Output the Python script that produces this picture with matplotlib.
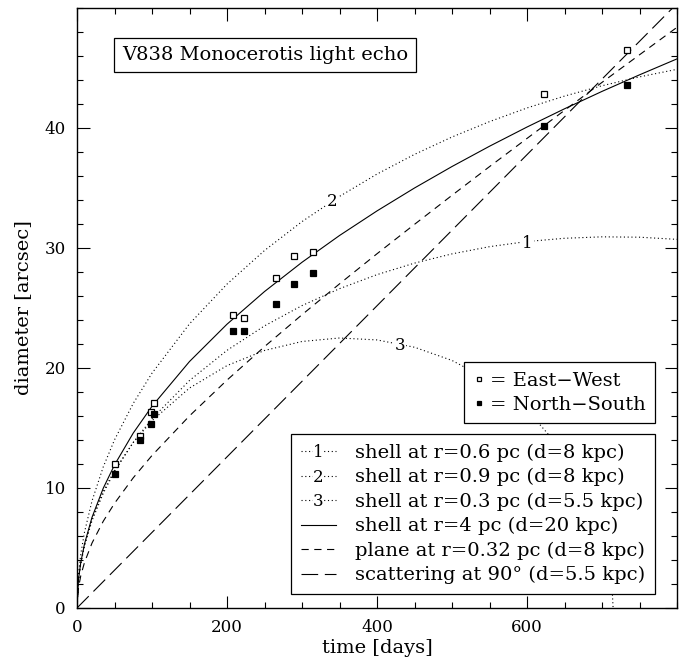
import numpy as np
import matplotlib.pyplot as plt
from matplotlib.legend_handler import HandlerLine2D
from matplotlib.text import Text

plt.rcParams['font.family'] = ['DejaVu Serif']
plt.rcParams['font.size'] = 12

# measured echo diameters [arcsec]
obs_days = [51, 84, 98, 103, 208, 222, 265, 289, 315, 623, 733]
east_west = [12.0, 14.3, 16.3, 17.1, 24.4, 24.2, 27.5, 29.3, 29.7, 42.8, 46.5]
north_south = [11.2, 14.0, 15.3, 16.2, 23.1, 23.1, 25.3, 27.0, 27.9, 40.2, 43.6]

# model curves
model_days = [0, 2, 5, 10, 20, 35, 50, 75, 100, 150, 200, 250, 300, 350,
              400, 450, 500, 550, 600, 650, 700, 750, 800]
shell_06pc = [0, 2.31, 3.65, 5.16, 7.27, 9.56, 11.37, 13.80, 15.78, 18.96,
              21.47, 23.51, 25.20, 26.61, 27.78, 28.74, 29.51, 30.11, 30.54,
              30.81, 30.93, 30.90, 30.72]
shell_09pc = [0, 2.83, 4.48, 6.32, 8.92, 11.76, 14.01, 17.05, 19.57, 23.68,
              26.99, 29.79, 32.20, 34.30, 36.16, 37.80, 39.25, 40.53, 41.67,
              42.66, 43.52, 44.26, 44.89]
shell_4pc = [0, 2.39, 3.78, 5.34, 7.55, 9.98, 11.92, 14.58, 16.81, 20.54,
             23.65, 26.37, 28.81, 31.04, 33.09, 35.00, 36.79, 38.48, 40.08,
             41.60, 43.05, 44.43, 45.76]
plane_032pc = [0, 1.69, 2.68, 3.80, 5.41, 7.23, 8.72, 10.85, 12.71, 16.01,
               18.99, 21.78, 24.44, 27.01, 29.52, 31.97, 34.39, 36.78, 39.13,
               41.47, 43.80, 46.10, 48.39]

shell3_days = [0, 2, 5, 10, 20, 35, 50, 75, 100, 150, 200, 250, 300, 350,
               400, 450, 500, 550, 600, 650, 675, 690, 700, 705, 710, 713, 714.8]
shell_03pc = [0, 2.38, 3.75, 5.29, 7.42, 9.71, 11.48, 13.79, 15.61, 18.33,
              20.20, 21.46, 22.21, 22.50, 22.34, 21.73, 20.63, 18.96, 16.52,
              12.92, 10.32, 8.24, 6.41, 5.23, 3.67, 2.26, 0]

scatter_days = [0, 800]
scatter_90deg = [0, 50.37]

model_labels = [
    "shell at r=0.6 pc (d=8 kpc)",
    "shell at r=0.9 pc (d=8 kpc)",
    "shell at r=0.3 pc (d=5.5 kpc)",
    "shell at r=4 pc (d=20 kpc)",
    "plane at r=0.32 pc (d=8 kpc)",
    "scattering at 90\u00b0 (d=5.5 kpc)",
]

TEXT_SIZE = 14
NUM_SIZE = 12
LW = 0.8
DOT = (0, (1.0, 2.4))
SHORT_DASH = (0, (6.5, 5.0))
LONG_DASH = (0, (15.0, 6.0))


class NumberedHandler(HandlerLine2D):
    """legend line with a number drawn in the middle"""

    def __init__(self, number, **kw):
        super().__init__(**kw)
        self.number = number

    def create_artists(self, legend, orig_handle, xdescent, ydescent,
                       width, height, fontsize, trans):
        artists = super().create_artists(legend, orig_handle, xdescent,
                                         ydescent, width, height, fontsize,
                                         trans)
        num = Text(width / 2 - xdescent, height / 2 - ydescent - 1,
                   self.number, ha='center', va='center',
                   fontsize=NUM_SIZE, transform=trans)
        num.set_bbox(dict(fc='white', ec='none', pad=0.3))
        return list(artists) + [num]


fig = plt.figure(figsize=(6.84, 6.6), dpi=100)
ax = fig.add_axes([77 / 684, 52 / 660, 600 / 684, 600 / 660])

l1, = ax.plot(model_days, shell_06pc, color='k', lw=LW, ls=DOT)
l2, = ax.plot(model_days, shell_09pc, color='k', lw=LW, ls=DOT)
l3, = ax.plot(shell3_days, shell_03pc, color='k', lw=LW, ls=DOT)
l4, = ax.plot(model_days, shell_4pc, color='k', lw=LW, ls='-')
l5, = ax.plot(model_days, plane_032pc, color='k', lw=LW, ls=SHORT_DASH)
l6, = ax.plot(scatter_days, scatter_90deg, color='k', lw=LW, ls=LONG_DASH)

# curve numbers on the plot
for num, (tx, ty) in zip(["1", "2", "3"], [(601, 30.4), (340, 33.9), (431, 21.9)]):
    ax.text(tx, ty, num, ha='center', va='center', fontsize=NUM_SIZE,
            bbox=dict(fc='white', ec='none', pad=0.5))

ew, = ax.plot(obs_days, east_west, ls='none', marker='s', ms=5,
              mfc='white', mec='k', mew=0.9)
ns, = ax.plot(obs_days, north_south, ls='none', marker='s', ms=5,
              mfc='k', mec='k', mew=0.9)

ax.set_xlim(0, 800)
ax.set_ylim(0, 50)
ax.set_xticks([0, 200, 400, 600])
ax.set_xticks(np.arange(0, 801, 50), minor=True)
ax.set_yticks([0, 10, 20, 30, 40])
ax.set_yticks(np.arange(0, 51, 2), minor=True)
ax.tick_params(which='both', direction='in', top=True, right=True, width=0.8)
ax.tick_params(which='major', length=9)
ax.tick_params(which='minor', length=4.5)
ax.tick_params(axis='x', pad=8)
ax.tick_params(axis='y', pad=8)
for sp in ax.spines.values():
    sp.set_linewidth(1.0)

ax.set_xlabel("time [days]", fontsize=TEXT_SIZE, labelpad=2)
ax.set_ylabel("diameter [arcsec]", fontsize=TEXT_SIZE, labelpad=9)

ax.text(0.075, 0.9217, "V838 Monocerotis light echo", transform=ax.transAxes,
        ha='left', va='center', fontsize=TEXT_SIZE,
        bbox=dict(boxstyle='square,pad=0.4', fc='white', ec='k', lw=0.9))

leg_models = ax.legend(
    [l1, l2, l3, l4, l5, l6], model_labels,
    handler_map={l1: NumberedHandler("1"), l2: NumberedHandler("2"),
                 l3: NumberedHandler("3")},
    loc='upper right', bbox_to_anchor=(0.9633, 0.29), fontsize=TEXT_SIZE,
    borderaxespad=0, borderpad=0.5, handlelength=1.8, handletextpad=1.0,
    labelspacing=0.32, fancybox=False, framealpha=1, edgecolor='k')
leg_models.get_frame().set_linewidth(0.9)
ax.add_artist(leg_models)

leg_obs = ax.legend(
    [ew, ns], ["= East\u2212West", "= North\u2212South"],
    loc='upper right', bbox_to_anchor=(0.9633, 0.41), fontsize=TEXT_SIZE,
    borderaxespad=0, borderpad=0.5, handlelength=0.5, handletextpad=0.3,
    labelspacing=0.3, markerscale=0.65, fancybox=False, framealpha=1,
    edgecolor='k')
leg_obs.get_frame().set_linewidth(0.9)

fig.savefig("out.png", dpi=100)
